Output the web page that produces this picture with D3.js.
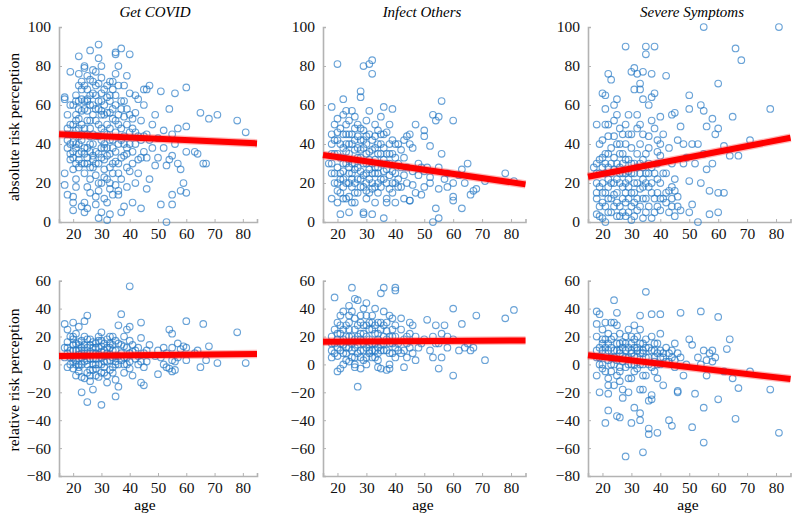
<!DOCTYPE html>
<html><head><meta charset="utf-8">
<script src="https://cdn.jsdelivr.net/npm/d3@7"></script>
<style>body{margin:0;background:#fff}svg{display:block}</style>
</head><body><svg id="c" width="792" height="514"></svg>
<script>
const titles = ["Get COVID", "Infect Others", "Severe Symptoms"];
const rowLabels = ["absolute risk perception", "relative risk perception"];
const xTicks = [20, 30, 40, 50, 60, 70, 80];
const yTicksAbs = [0, 20, 40, 60, 80, 100];
const yTicksRel = [-80, -60, -40, -20, 0, 20, 40, 60];
const fitAges = [15, 85];

const absGet = [
[17,63],[17,64],[17,25],[17,19],[18,14],[18,38],[18,42],[18,45],[19,32],[19,35],[19,50],[19,77],[18,55],[19,40],
[20,6],[20,10],[20,13],[21,18],[21,22],[20,27],[21,30],[20,33],[22,35],[21,38],[20,41],[22,44],[21,47],[20,50],[22,53],[21,55],[22,58],[20,60],[22,62],[21,65],[23,68],[22,70],[23,72],[22,76],[22,85],[23,8],[23,30],[23,36],[23,45],[23,57],
[24,5],[25,7],[24,10],[26,15],[25,18],[24,25],[26,28],[25,30],[27,32],[24,35],[26,36],[25,38],[27,40],[24,45],[26,48],[25,52],[27,55],[24,58],[26,60],[25,63],[27,66],[24,70],[26,73],[25,75],[24,80],[24,79],[27,78],[26,88],[27,34],[26,44],[25,62],
[29,2],[30,5],[28,9],[31,12],[29,16],[30,20],[28,24],[31,27],[29,30],[30,33],[28,36],[31,40],[29,44],[30,48],[28,52],[31,55],[29,58],[30,62],[28,65],[31,68],[29,71],[30,74],[28,77],[30,80],[29,84],[29,91],[28,13],[31,38],[30,57],
[32,1],[33,4],[32,10],[34,14],[33,17],[35,19],[32,22],[34,25],[33,28],[35,31],[32,34],[34,38],[33,42],[35,46],[32,50],[34,53],[33,56],[35,60],[32,64],[34,68],[33,72],[35,76],[35,86],[35,87],[34,30],[33,62],
[37,5],[38,8],[36,14],[39,18],[37,22],[40,26],[36,30],[38,34],[39,38],[37,42],[40,46],[36,50],[38,54],[39,58],[37,62],[40,66],[38,70],[39,75],[36,80],[40,86],[37,89],[36,16],[38,40],[39,28],
[44,7],[41,10],[42,20],[43,25],[41,30],[44,33],[45,36],[42,40],[43,44],[41,48],[44,52],[42,56],[45,60],[43,63],[45,68],[41,53],
[46,17],[47,22],[49,29],[46,33],[48,38],[47,42],[46,45],[48,50],[49,55],[47,70],[46,68],[50,43],
[51,67],[56,66],[54,58],[65,56],[71,55],[68,53],[78,52],[81,46],[60,49],[57,48],[63,36],[64,35],[66,30],[67,30],[60,36],[58,27],[59,20],[60,15],[58,16],[55,14],[55,9],[51,9],[53,0],[50,33],[53,29],[52,38],[55,34],[57,30],[60,69],[55,45],[56,40],[52,47],[54,32],
[18,48],[19,60],[20,36],[20,45],[21,40],[21,52],[21,62],[22,32],[22,40],[22,48],[23,42],[23,50],[23,63],[24,38],[24,48],[24,62],[25,33],[25,45],[25,57],[25,68],[26,40],[26,52],[26,65],[27,28],[27,45],[27,60],[27,72],[28,30],[28,44],[28,58],[28,70],[29,35],[29,50],[29,62],[30,38],[30,42],[30,55],[30,66],[31,32],[31,46],[31,60],[32,38],[32,45],[32,56],[32,70],[33,35],[33,48],[33,65],[34,42],[34,58],[34,72],[35,36],[35,52],[35,65],[36,40],[36,55],[36,70],[37,33],[37,48],[37,58],[38,44],[38,62],[39,35],[39,50],[40,40],[40,55],[41,36],[42,46],[43,32],[44,42],[42,65],[45,44],[29,20],[31,23],[26,22],[33,20],[24,30],[22,28],[36,25]
];
const absInf = [
[18,59],[18,30],[18,40],[18,12],[19,50],[19,35],[19,25],[19,20],[17,30],[18,45],
[20,81],[20,10],[21,15],[20,28],[21,33],[20,42],[22,63],[22,55],[21,48],[22,38],[21,22],[22,18],[23,30],[23,45],[23,57],[22,26],[21,4],[23,12],[20,53],[23,36],
[24,5],[24,20],[25,25],[24,35],[25,40],[26,48],[24,52],[25,57],[26,30],[27,22],[26,15],[25,10],[27,44],[26,37],[24,28],[27,33],[25,18],[26,54],[27,50],[24,45],
[28,67],[28,64],[29,80],[29,5],[29,4],[30,12],[28,18],[29,24],[30,30],[31,36],[28,42],[29,47],[30,52],[31,27],[28,33],[30,20],[31,15],[29,38],[30,44],[28,26],[31,57],[31,81],
[32,83],[32,76],[32,4],[33,10],[34,15],[32,20],[33,25],[35,30],[34,35],[33,38],[32,42],[34,47],[35,54],[33,32],[35,22],[34,28],[32,17],[35,40],[33,50],
[36,59],[36,2],[37,12],[38,17],[36,22],[39,26],[37,30],[38,35],[36,38],[39,42],[37,46],[38,50],[39,58],[40,33],[40,20],[40,10],[37,27],[38,40],[36,32],[39,15],
[41,30],[42,37],[43,24],[44,44],[45,45],[42,18],[43,12],[44,28],[45,40],[41,22],[46,38],[45,11],[46,19],[47,50],[48,30],[46,26],[47,15],[48,24],[49,28],[50,18],
[53,55],[55,54],[54,52],[56,62],[60,52],[50,47],[50,44],[52,39],[56,35],[65,30],[63,27],[78,25],[81,21],[68,17],[67,16],[66,14],[63,7],[60,13],[55,2],[53,0],[54,7],[60,11],[49,14],[45,11],[51,28],[52,20],[55,17],[57,22],[58,18],[60,20],[62,24],[55,28],[58,25],[52,23],[50,26],[64,20],[71,21],
[18,35],[18,25],[19,42],[20,20],[20,35],[20,46],[21,25],[21,40],[22,30],[22,45],[22,22],[23,20],[23,40],[23,50],[24,25],[24,40],[24,32],[25,30],[25,45],[25,22],[26,20],[26,42],[26,27],[27,28],[27,38],[27,15],[28,22],[28,37],[28,48],[29,18],[29,30],[29,42],[30,25],[30,35],[30,40],[31,22],[31,32],[31,45],[32,25],[32,30],[32,37],[33,18],[33,28],[33,44],[34,20],[34,25],[34,40],[35,18],[35,35],[36,26],[36,45],[37,20],[37,35],[38,24],[38,30],[39,20],[39,35],[40,25],[40,40],[41,18],[42,28],[43,33],[44,20],[35,45],[30,16],[26,10],[24,13],[22,12],[20,16],[37,10],[41,40],[43,42]
];
const absSev = [
[18,30],[18,20],[18,12],[18,4],[19,32],[19,25],[19,18],[19,8],[17,28],[18,50],[19,40],
[20,66],[21,65],[21,58],[20,42],[21,35],[20,28],[22,22],[21,15],[20,10],[22,5],[21,0],[22,44],[22,76],[23,73],[23,30],[22,18],[23,12],[20,2],[23,38],[21,50],
[24,60],[25,63],[24,52],[26,48],[25,40],[24,33],[26,28],[25,22],[27,18],[24,14],[26,8],[25,3],[27,35],[26,25],[24,44],[27,12],[25,55],
[28,90],[28,50],[29,45],[30,38],[28,32],[29,26],[31,20],[30,15],[28,10],[29,5],[30,1],[31,30],[30,77],[31,79],[32,76],[29,22],[28,40],[31,10],
[31,68],[33,68],[33,71],[32,55],[34,45],[33,40],[35,35],[32,28],[34,22],[33,17],[35,12],[32,6],[34,2],[35,25],[34,77],[35,90],[35,86],[32,48],[34,32],
[38,90],[37,76],[38,66],[37,64],[34,63],[36,60],[37,52],[38,48],[39,42],[36,38],[40,34],[37,28],[39,22],[36,18],[38,12],[40,6],[37,2],[39,30],[40,54],[39,15],
[42,75],[41,45],[43,38],[44,30],[42,25],[45,22],[43,16],[41,12],[44,8],[45,3],[44,55],[45,56],[46,42],[47,49],[46,13],[47,6],[48,30],[44,18],
[55,100],[81,100],[66,89],[68,83],[60,71],[50,65],[54,60],[55,57],[50,58],[78,58],[65,54],[58,53],[56,49],[60,48],[59,45],[71,42],[48,40],[51,40],[53,40],[62,39],[67,34],[64,34],[56,27],[58,30],[50,21],[54,20],[62,15],[60,15],[57,16],[60,5],[57,4],[53,0],[51,9],[50,5],[52,30],[55,35],[49,33],
[18,25],[18,15],[19,3],[20,20],[20,33],[20,15],[21,25],[21,8],[21,30],[22,12],[22,28],[22,35],[23,20],[23,5],[23,25],[24,20],[24,8],[24,27],[25,15],[25,30],[25,10],[26,20],[26,3],[26,35],[27,25],[27,5],[27,30],[28,20],[28,15],[28,25],[28,3],[29,12],[29,32],[29,18],[30,25],[30,8],[30,30],[31,15],[31,25],[31,3],[32,20],[32,12],[32,35],[33,25],[33,8],[33,30],[34,18],[34,12],[34,28],[35,20],[35,5],[36,25],[36,8],[36,30],[37,15],[37,20],[38,25],[38,5],[39,8],[40,20],[40,12],[41,25],[42,10],[42,15],[43,5],[44,12],[45,16],[46,8],[39,36],[36,44],[30,45],[26,40],[22,50],[27,45],[29,55],[33,50],[40,40]
];
const relGet = [
[17,5],[17,12],[18,-2],[18,16],[18,8],[19,0],[17,29],[20,30],[19,20],[18,25],
[20,10],[21,15],[20,2],[22,-5],[21,-8],[22,7],[20,18],[21,22],[23,12],[22,-2],[23,5],[21,0],[22,27],[23,17],[20,-3],[22,14],[23,-9],
[24,31],[25,35],[24,10],[25,3],[26,-4],[24,-10],[27,8],[26,14],[25,18],[27,0],[24,6],[26,-12],[27,16],[25,-6],[26,9],[23,-20],[25,-27],[27,-18],[27,4],
[28,12],[29,-9],[30,5],[31,15],[28,-3],[29,20],[30,-6],[31,2],[28,8],[29,17],[30,23],[31,10],[30,-29],[28,0],[29,7],[31,-2],[30,13],
[32,8],[33,-4],[34,14],[35,-11],[32,18],[33,3],[34,10],[35,0],[32,-8],[33,12],[34,-2],[35,6],[35,-23],[36,-16],[36,28],[37,36],[35,17],[33,20],
[38,5],[39,12],[40,-3],[38,20],[39,0],[40,8],[37,14],[38,-6],[39,25],[40,27],[40,56],[40,17],[37,3],[41,-8],[41,9],[42,4],[43,12],[44,30],[44,-13],[45,-15],[44,19],[45,8],[46,2],[47,14],[45,-2],[46,10],[43,0],
[50,-7],[50,10],[51,5],[52,0],[53,8],[54,25],[55,22],[54,-3],[55,-5],[56,2],[55,12],[57,5],[53,-2],[56,-4],[55,3],[57,15],[58,11],[59,13],[60,31],[60,3],[60,12],[66,29],[78,23],[68,13],[81,1],[71,1],[67,3],[65,-2],[63,8],[64,10],[52,12],[49,6],
[18,12],[19,5],[19,10],[20,5],[20,14],[21,3],[21,10],[22,0],[22,10],[23,8],[23,0],[24,2],[24,14],[25,0],[25,8],[25,12],[26,4],[26,18],[27,-4],[27,12],[28,4],[28,15],[29,0],[29,12],[30,9],[30,0],[31,6],[31,-6],[32,2],[32,12],[33,7],[33,15],[34,5],[34,-6],[35,10],[35,2],[36,6],[36,0],[37,8],[38,13],[38,0],[39,5],[40,2],[41,14],[42,10],[43,6],[44,2],[20,20],[24,20],[28,-8],[32,-13],[26,-8],[36,15],[22,16],[30,17],[34,20]
];
const relInf = [
[18,20],[18,10],[18,5],[19,15],[19,25],[19,48],[20,30],[20,-5],[21,-3],[20,12],[21,35],[21,22],[22,8],[22,18],[23,28],[23,3],[22,38],[20,6],[21,15],[23,12],
[24,42],[25,55],[24,20],[25,10],[26,47],[27,46],[26,5],[27,-16],[24,30],[25,15],[26,25],[27,8],[26,33],[24,2],[27,20],[25,38],[26,-2],
[28,18],[29,10],[30,44],[30,28],[28,5],[29,22],[31,14],[30,35],[28,-3],[29,3],[31,25],[30,12],[28,30],[31,8],[29,40],[31,18],
[32,15],[33,22],[34,30],[35,51],[35,-3],[32,5],[33,10],[34,18],[35,25],[32,35],[33,40],[34,3],[35,14],[33,28],[34,12],
[36,55],[37,-4],[36,20],[37,30],[38,8],[39,15],[40,55],[40,53],[38,35],[39,25],[40,5],[36,10],[37,18],[38,0],[39,33],[40,20],[36,38],[40,12],
[41,10],[42,25],[43,18],[44,5],[45,30],[43,-2],[44,15],[45,22],[46,8],[47,20],[46,28],[48,12],[47,3],[49,15],[42,33],
[51,32],[50,18],[52,10],[53,20],[54,28],[55,-3],[56,5],[57,28],[55,15],[56,22],[58,12],[53,5],[54,15],[60,40],[60,-8],[60,18],[58,20],[62,10],[63,29],[64,12],[66,10],[67,12],[68,35],[71,3],[78,33],[81,39],[65,15],
[18,15],[19,8],[20,18],[20,22],[21,10],[21,28],[22,14],[22,25],[23,20],[23,8],[24,12],[24,25],[25,20],[25,5],[26,12],[26,18],[27,14],[27,28],[28,10],[28,22],[29,15],[29,28],[30,5],[30,20],[31,10],[31,30],[32,10],[32,25],[33,15],[33,5],[34,22],[34,8],[35,10],[35,30],[36,15],[36,28],[37,10],[37,24],[38,15],[38,20],[39,8],[39,20],[40,28],[41,15],[42,8],[43,10],[44,20],[45,12],[22,0],[26,0],[30,0],[34,-2],[38,-3],[28,35],[32,30],[24,35]
];
const relSev = [
[18,38],[18,29],[19,36],[18,5],[18,-8],[19,12],[19,-20],[18,20],[19,0],
[20,15],[21,8],[20,-3],[22,22],[21,30],[22,-10],[21,18],[22,3],[20,10],[23,12],[23,-5],[21,-42],[22,-33],[22,-21],[23,30],[20,25],[23,5],
[24,46],[25,37],[24,20],[25,10],[26,-2],[24,5],[26,15],[25,-8],[27,12],[26,22],[24,-15],[25,-37],[26,-38],[27,-24],[27,-18],[27,2],[25,28],[26,8],
[28,-66],[28,15],[29,5],[30,20],[31,-5],[28,10],[29,25],[30,0],[31,12],[30,-42],[31,-31],[29,-10],[28,-2],[30,8],[31,18],
[32,10],[33,0],[34,-63],[33,-40],[33,-35],[32,20],[34,8],[35,52],[33,35],[35,-8],[32,-3],[34,15],[35,5],[33,25],[34,-18],
[36,-46],[37,-22],[36,-50],[39,-49],[37,36],[38,10],[39,0],[40,36],[38,-5],[39,15],[40,5],[37,20],[36,12],[41,-15],[40,22],[38,2],[39,-10],
[41,8],[42,12],[43,-40],[44,-44],[43,2],[44,10],[45,-2],[46,-19],[46,-20],[45,15],[47,37],[48,-8],[47,5],[49,0],[46,8],
[50,18],[51,14],[52,-21],[51,-45],[54,38],[55,-31],[55,-56],[53,5],[54,0],[55,10],[56,3],[57,8],[58,2],[56,-8],[60,34],[60,-25],[59,5],[63,11],[64,18],[65,-10],[67,-17],[66,-39],[71,-5],[78,-18],[81,-49],[62,-5],[58,10],
[18,10],[19,5],[20,0],[20,18],[21,12],[21,-5],[22,10],[22,15],[23,0],[23,18],[24,10],[24,0],[25,15],[25,3],[26,10],[26,-5],[27,6],[27,16],[28,5],[28,20],[29,0],[29,12],[30,10],[30,15],[31,0],[31,6],[32,12],[32,5],[33,8],[33,15],[34,0],[34,10],[35,12],[35,18],[36,5],[36,0],[37,10],[37,-2],[38,5],[38,15],[39,8],[40,10],[40,0],[41,5],[42,2],[43,8],[44,5],[45,3],[22,-15],[26,-12],[30,-10],[34,-8],[29,-20],[33,-18],[37,-25],[36,-26],[24,30],[31,28]
];
// fitted line values at ages 15 and 85
const fitAbsGet = [45, 40.3], fitAbsInf = [34.4, 19.3], fitAbsSev = [23.2, 43.2];
const fitRelGet = [6, 7.5], fitRelInf = [16.3, 17.2], fitRelSev = [6.5, -10.5];

const panels = [
  {data: absGet, fit: fitAbsGet, row: 0, col: 0},
  {data: absInf, fit: fitAbsInf, row: 0, col: 1},
  {data: absSev, fit: fitAbsSev, row: 0, col: 2},
  {data: relGet, fit: fitRelGet, row: 1, col: 0},
  {data: relInf, fit: fitRelInf, row: 1, col: 1},
  {data: relSev, fit: fitRelSev, row: 1, col: 2}
];
const colX = [[59, 257], [323, 525.5], [588, 790.5]];
const rowY = [{range: [222, 27], domain: [0, 100], ticks: yTicksAbs},
              {range: [476, 280.7], domain: [-80, 60], ticks: yTicksRel}];

const FONT = '"Liberation Serif", "Times New Roman", serif';
const svg = d3.select("#c");
const axisColor = "#b3b3b3";

panels.forEach(p => {
  const x = d3.scaleLinear().domain([15, 85]).range(colX[p.col]);
  const r = rowY[p.row];
  const y = d3.scaleLinear().domain(r.domain).range(r.range);
  const g = svg.append("g");

  const xa = g.append("g").attr("transform", `translate(0,${r.range[0]})`)
    .call(d3.axisBottom(x).tickValues(xTicks).tickSize(-3).tickPadding(6).tickFormat(d3.format("d")));
  const ya = g.append("g").attr("transform", `translate(${colX[p.col][0]},0)`)
    .call(d3.axisLeft(y).tickValues(r.ticks).tickSize(-3).tickPadding(8).tickFormat(d => d < 0 ? "\u2212" + Math.abs(d) : d));
  [xa, ya].forEach(a => {
    a.attr("font-family", null).attr("font-size", null);
    a.select(".domain").attr("stroke", axisColor).attr("stroke-width", 1.6);
    a.selectAll(".tick line").attr("stroke", axisColor);
    a.selectAll(".tick text").style("font-family", FONT).style("font-size", "15.5px").attr("fill", "#111");
  });

  g.append("g").selectAll("circle").data(p.data).join("circle")
    .attr("cx", d => x(d[0])).attr("cy", d => y(d[1])).attr("r", 3.3)
    .attr("fill", "none").attr("stroke", "#2477c4").attr("stroke-width", 1.15).attr("stroke-opacity", 0.68);

  const lineData = fitAges.map((a, i) => [a, p.fit[i]]);
  const line = d3.line().x(d => x(d[0])).y(d => y(d[1]));
  g.append("path").attr("d", line(lineData)).attr("stroke", "#ff3030").attr("stroke-opacity", 0.35).attr("stroke-width", 8.5).attr("fill", "none");
  g.append("path").attr("d", line(lineData)).attr("stroke", "#ff0000").attr("stroke-width", 6).attr("fill", "none");
});

const titleX = [155, 422, 692];
titles.forEach((t, i) => svg.append("text").attr("x", titleX[i]).attr("y", 17)
  .attr("text-anchor", "middle").style("font-family", FONT).style("font-style", "italic").style("font-size", "15px").text(t));

const rowLabelY = [127, 380];
rowLabels.forEach((t, i) => svg.append("text")
  .attr("transform", `translate(19,${rowLabelY[i]}) rotate(-90)`)
  .attr("text-anchor", "middle").style("font-family", FONT).style("font-size", "15.5px").text(t));

const ageX = [145, 423, 688];
ageX.forEach(ax => svg.append("text").attr("x", ax).attr("y", 510).attr("text-anchor", "middle")
  .style("font-family", FONT).style("font-size", "15.5px").text("age"));
</script></body></html>
